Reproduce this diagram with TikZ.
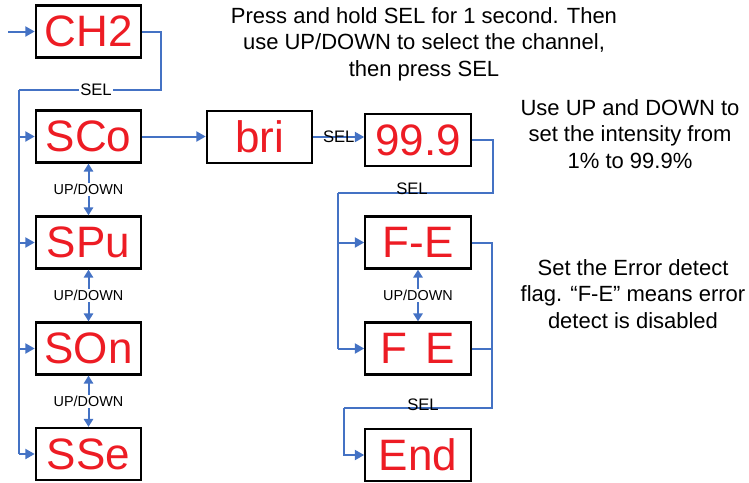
\documentclass[tikz,border=0pt]{standalone}
\usepackage{fontspec}
\setmainfont{Liberation Sans}
\usepackage{xcolor}
\usetikzlibrary{calc,positioning,arrows.meta}
\definecolor{wireblue}{HTML}{4472C4}
\definecolor{segred}{HTML}{ED1C24}
\tikzset{
  dispbox/.style = {draw=black, line width=1.7pt, fill=white, text=segred,
                    minimum width=79pt, minimum height=39pt, inner sep=0pt,
                    font=\fontsize{33}{33}\selectfont},
  wire/.style    = {draw=wireblue, line width=1.5pt},
  flow/.style    = {wire, -{Triangle[length=7pt, width=7.5pt]}},
  updn/.style    = {wire, {Triangle[length=6pt, width=7pt]}-{Triangle[length=6pt, width=7pt]}},
  keylbl/.style  = {fill=white, inner sep=1pt, font=\fontsize{12.5}{14}\selectfont},
  udlbl/.style   = {fill=white, inner sep=1pt, font=\fontsize{10.8}{12}\selectfont},
  note/.style    = {align=center, inner sep=0pt, font=\fontsize{16.5}{20}\selectfont},
}
\begin{document}
\begin{tikzpicture}[x=0.75pt, y=-0.75pt]
    \useasboundingbox (0,0) rectangle (749,482);

    % ---------------- channel menu
    \node[dispbox] (ch2) at (88.5,31.5)  {CH2};
    \node[dispbox] (sco) at (88.5,136.5) {SCo};
    \node[dispbox] (spu) at (88.5,242.5) {SPu};
    \node[dispbox] (son) at (88.5,348.5) {SOn};
    \node[dispbox] (sse) at (88.5,454)   {SSe};

    \coordinate (entry) at (8,31.5);
    \coordinate (bus1) at (19,90);
    \draw[flow] (entry) -- (ch2);
    \draw[wire] (ch2.east) -- ++(19,0) |- (bus1);
    \draw[wire] (bus1) -- (bus1 |- sse);
    \node[keylbl] at (96,90) {SEL};
    \foreach \n in {sco,spu,son,sse} {\draw[flow] (bus1 |- \n) -- (\n);}

    \foreach \a/\b in {sco/spu, spu/son, son/sse}
      {\draw[updn] (\a) -- (\b) node[midway, udlbl] {UP/DOWN};}

    % ---------------- brightness
    \node[dispbox] (bri) at (259.5,137)  {bri};
    \node[dispbox] (val) at (418,140)    {99.9};
    \draw[flow] (sco.east) -- (bri.west |- sco.east);
    \draw[flow] (bri.east) -- (bri.east -| val.west)
      node[midway, keylbl, fill=none] {SEL};

    \node[note] (hint1) at (424,44)
      {Press and hold SEL for 1 second. Then\\
       use UP/DOWN to select the channel,\\
       then press SEL};
    \node[note] (hint2) at (630,134)
      {Use UP and DOWN to\\set the intensity from\\1\% to 99.9\%};

    % ---------------- error flag
    \node[dispbox] (fe1) at (418,242.5) {F-E};
    \node[dispbox] (fe2) at (418,348.5) {F\hspace{0.42em}E};
    \node[dispbox] (fin) at (418,455)   {End};

    \coordinate (bus2) at (338,193);
    \draw[wire] (val.east) -- ++(21,0) |- (bus2);
    \node[keylbl, fill=none] at (412,189) {SEL};
    \draw[wire] (bus2) -- (bus2 |- fe2);
    \foreach \n in {fe1,fe2} {\draw[flow] (bus2 |- \n) -- (\n);}
    \draw[updn] (fe1) -- (fe2) node[midway, udlbl] {UP/DOWN};

    \coordinate (bus3) at (344,408);
    \draw[wire] (fe1.east) -- ++(20,0) |- (bus3);
    \draw[wire] (fe2.east) -- ++(20,0);
    \node[keylbl, fill=none] at (423,405) {SEL};
    \draw[flow] (bus3) |- (fin);

    \node[note] (hint3) at (633,294)
      {Set the Error detect\\flag. ``F-E'' means error\\detect is disabled};
\end{tikzpicture}
\end{document}
